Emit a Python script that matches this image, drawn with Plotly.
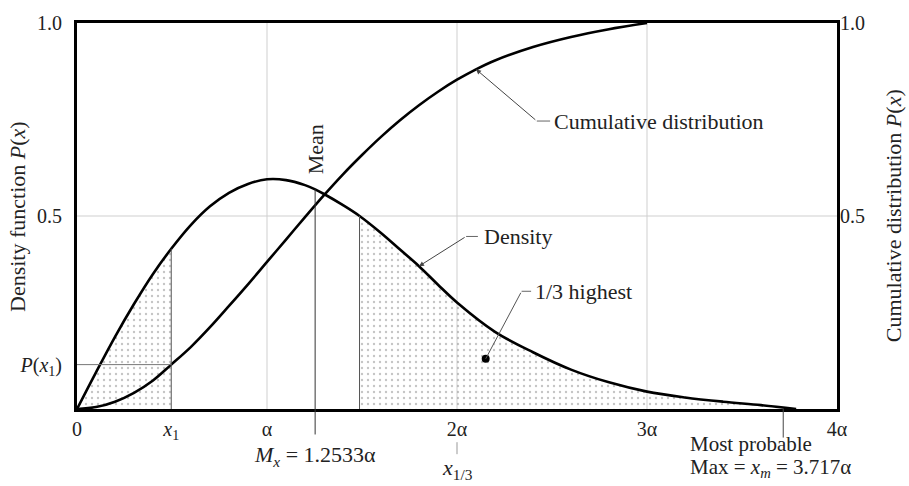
import plotly.graph_objects as go

# ---- data (x in units of alpha) ----
dens_x = [0, 0.1, 0.2, 0.3, 0.4, 0.496, 0.6, 0.7, 0.8, 0.9, 1.0, 1.1, 1.2, 1.2533, 1.3, 1.4,
          1.487, 1.6, 1.7, 1.8, 1.9, 2.0, 2.2, 2.4, 2.6, 2.8, 3.0, 3.2, 3.4, 3.6, 3.785]
dens_y = [0, 0.095, 0.187, 0.272, 0.350, 0.415, 0.477, 0.525, 0.560, 0.583, 0.595, 0.593,
          0.580, 0.569, 0.557, 0.528, 0.500, 0.456, 0.413, 0.370, 0.322, 0.276, 0.200, 0.147,
          0.102, 0.069, 0.045, 0.030, 0.019, 0.010, 0.0]

cum_x = [0, 0.1, 0.2, 0.3, 0.4, 0.496, 0.6, 0.7, 0.8, 0.9, 1.0, 1.1, 1.2, 1.3, 1.4, 1.5,
         1.6, 1.7, 1.8, 1.9, 2.0, 2.1, 2.2, 2.4, 2.6, 2.8, 3.0]
cum_y = [0, 0.005, 0.019, 0.042, 0.074, 0.115, 0.161, 0.212, 0.267, 0.323, 0.381, 0.439,
         0.497, 0.554, 0.608, 0.658, 0.705, 0.748, 0.787, 0.822, 0.853, 0.880, 0.903, 0.938,
         0.964, 0.984, 1.0]

x1 = 0.496
x_third = 1.487
mean_x = 1.2533
most_probable = 3.717
third_dot = [2.151, 0.130]

x_tick_vals = [0, x1, 1, 2, 3, 4]
x_tick_text = ["0", "<i>x</i><sub>1</sub>", "α", "2α", "3α", "4α"]
yr_tick_vals = [0.5, 1.0]
yr_tick_text = ["0.5", "1.0"]
grid_x = [1, 2, 3]
grid_y = [0.5]

FONT = "Liberation Serif"
TXT = "#222"

i1 = dens_x.index(x1)
i3 = dens_x.index(x_third)
imean = dens_x.index(mean_x)
p_x1 = cum_y[cum_x.index(x1)]
yl_tick_vals = [p_x1, 0.5, 1.0]
yl_tick_text = ["<i>P</i>(<i>x</i><sub>1</sub>)", "0.5", "1.0"]

fig = go.Figure()

pattern = dict(shape=".", fgcolor="#8a8a8a", bgcolor="rgba(0,0,0,0)", size=6, solidity=0.12)
fig.add_trace(go.Scatter(x=dens_x[:i1 + 1], y=dens_y[:i1 + 1], mode="lines",
                         line=dict(width=0, shape="spline"), fill="tozeroy",
                         fillcolor="rgba(0,0,0,0)", fillpattern=pattern, hoverinfo="skip"))
fig.add_trace(go.Scatter(x=dens_x[i3:], y=dens_y[i3:], mode="lines",
                         line=dict(width=0, shape="spline"), fill="tozeroy",
                         fillcolor="rgba(0,0,0,0)", fillpattern=pattern, hoverinfo="skip"))

fig.add_trace(go.Scatter(x=dens_x, y=dens_y, mode="lines",
                         line=dict(color="black", width=2.6, shape="spline"), name="Density"))
fig.add_trace(go.Scatter(x=cum_x, y=cum_y, mode="lines", yaxis="y2",
                         line=dict(color="black", width=2.6, shape="spline"),
                         name="Cumulative distribution"))
fig.add_trace(go.Scatter(x=[third_dot[0]], y=[third_dot[1]], mode="markers",
                         marker=dict(color="black", size=8), hoverinfo="skip"))

shapes = []
for gx in grid_x:
    shapes.append(dict(type="line", xref="x", yref="paper", x0=gx, x1=gx, y0=0, y1=1,
                       line=dict(color="#cfcfcf", width=1), layer="below"))
for gy in grid_y:
    shapes.append(dict(type="line", xref="paper", yref="y", x0=0, x1=1, y0=gy, y1=gy,
                       line=dict(color="#cfcfcf", width=1), layer="below"))
shapes.append(dict(type="line", xref="x", yref="y", x0=x1, x1=x1, y0=0, y1=dens_y[i1],
                   line=dict(color="#555", width=1)))
shapes.append(dict(type="line", xref="x", yref="y", x0=x_third, x1=x_third, y0=0,
                   y1=dens_y[i3], line=dict(color="#555", width=1)))
shapes.append(dict(type="line", xref="x", yref="y", x0=0, x1=x1, y0=p_x1, y1=p_x1,
                   line=dict(color="#777", width=1)))
shapes.append(dict(type="line", xref="x", yref="paper", x0=mean_x, x1=mean_x, y0=-0.066,
                   y1=dens_y[imean], line=dict(color="#333", width=1)))
shapes.append(dict(type="line", xref="x", yref="paper", x0=most_probable, x1=most_probable,
                   y0=-0.074, y1=0, line=dict(color="#444", width=1)))
shapes.append(dict(type="line", xref="x", yref="paper", x0=2, x1=2, y0=-0.086, y1=-0.117,
                   line=dict(color="#999", width=1)))
for (a, b, yy) in [(2.42, 2.49, 0.746), (2.048, 2.11, 0.447), (2.34, 2.39, 0.305)]:
    shapes.append(dict(type="line", xref="x", yref="y", x0=a, x1=b, y0=yy, y1=yy,
                       line=dict(color="#666", width=1)))

ann = []
fnt = dict(family=FONT, size=22, color=TXT)
ic = cum_x.index(2.1)
idn = dens_x.index(1.8)
ann.append(dict(x=cum_x[ic], y=cum_y[ic], ax=2.42, ay=0.746, xref="x", yref="y",
                axref="x", ayref="y", text="", showarrow=True, arrowhead=2, arrowsize=1,
                arrowwidth=1, arrowcolor="#444"))
ann.append(dict(x=dens_x[idn], y=dens_y[idn], ax=2.048, ay=0.447, xref="x", yref="y",
                axref="x", ayref="y", text="", showarrow=True, arrowhead=2, arrowsize=1,
                arrowwidth=1, arrowcolor="#444"))
ann.append(dict(x=third_dot[0], y=third_dot[1], ax=2.34, ay=0.305, xref="x", yref="y",
                axref="x", ayref="y", text="", showarrow=True, arrowhead=0,
                arrowwidth=1, arrowcolor="#555"))


def label(x, y, text, xref="x", yref="y", xanchor="center", yanchor="middle", font=None, **kw):
    d = dict(x=x, y=y, xref=xref, yref=yref, text=text, showarrow=False,
             xanchor=xanchor, yanchor=yanchor, font=font or fnt)
    d.update(kw)
    ann.append(d)


small = dict(family=FONT, size=21, color=TXT)
label(2.5, 0.746, "Cumulative distribution", xanchor="left")
label(2.13, 0.447, "Density", xanchor="left")
label(2.40, 0.305, "1/3 highest", xanchor="left", bgcolor="white")
label(mean_x, 0.603, "Mean", yanchor="bottom", textangle=-90)
label(mean_x, -0.122, "<i>M</i><sub><i>x</i></sub> = 1.2533α", yref="paper")
label(2, -0.155, "<i>x</i><sub>1/3</sub>", yref="paper")
label(3.218, -0.128, "Most probable", yref="paper", xanchor="left", yanchor="bottom",
      font=small)
label(3.218, -0.192, "Max = <i>x</i><sub><i>m</i></sub> = 3.717α", yref="paper",
      xanchor="left", yanchor="bottom", font=small)
label(-0.079, 0.5, "Density function <i>P</i>(<i>x</i>)", xref="paper", yref="paper",
      textangle=-90)
label(1.074, 0.5, "Cumulative distribution <i>P</i>(<i>x</i>)", xref="paper",
      yref="paper", textangle=-90)

fig.update_layout(
    width=909, height=486,
    margin=dict(l=77, r=72, t=17, b=77),
    plot_bgcolor="white", paper_bgcolor="white",
    showlegend=False,
    font=dict(family=FONT, size=20, color=TXT),
    shapes=shapes, annotations=ann,
    xaxis=dict(range=[0, 4], tickvals=x_tick_vals, ticktext=x_tick_text, showgrid=False,
               zeroline=False, showline=True, mirror=True, linewidth=3, linecolor="black",
               ticks="", ticklabelstandoff=0, fixedrange=True),
    yaxis=dict(range=[0, 1], tickvals=yl_tick_vals, ticktext=yl_tick_text, showgrid=False,
               zeroline=False, showline=True, mirror=True, linewidth=3, linecolor="black",
               ticks="", ticklabelstandoff=8, fixedrange=True),
    yaxis2=dict(range=[0, 1], tickvals=yr_tick_vals, ticktext=yr_tick_text, overlaying="y",
                side="right", showgrid=False, zeroline=False, showline=False, ticks="",
                ticklabelstandoff=2, fixedrange=True),
)

fig.write_html("out.html", config={"displayModeBar": False})
